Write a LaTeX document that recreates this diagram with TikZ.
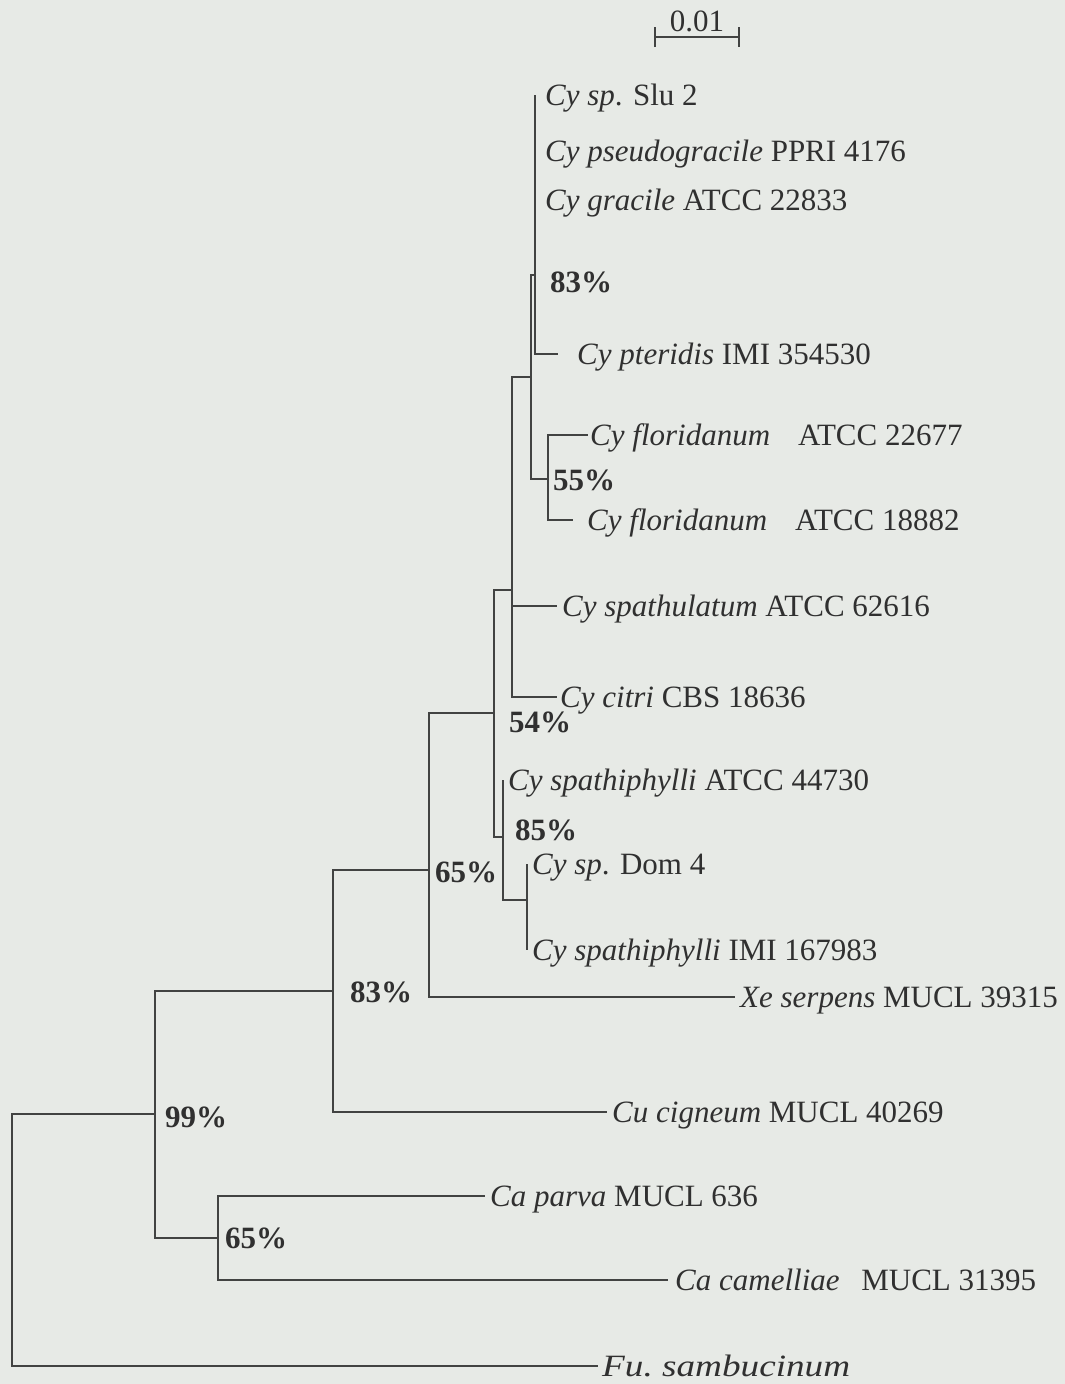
\documentclass[tikz,border=0pt]{standalone}
\usepackage{fontspec}
\setmainfont{Liberation Serif}
\usepackage{graphicx}
\usepackage{tikz}
\usetikzlibrary{arrows.meta}

\definecolor{paper}{RGB}{231,234,230}
\definecolor{ink}{RGB}{48,48,48}

\begin{document}
\begin{tikzpicture}[
    x=1pt,y=-1pt,
    every node/.style={font=\fontsize{31}{36}\selectfont,text=ink},
    branch/.style={draw=ink!90!paper,line width=2.4pt},
    taxon/.style={anchor=west,inner ysep=0pt,inner xsep=5pt,text height=20pt,text depth=0pt},
    support/.style={anchor=west,inner sep=0pt,font=\fontsize{31}{36}\selectfont\bfseries,text height=20pt,text depth=0pt}
]
\path[use as bounding box,fill=paper] (0,0) rectangle (1065,1384);

\coordinate (SL) at (654,37);
\coordinate (SR) at (740,37);
\draw[branch,{Bar[width=20pt]}-{Bar[width=20pt]}] (SL) -- (SR) node[midway,above=4pt,inner sep=0pt] (SB) {0.01};

\coordinate (R) at (12,1300);
\coordinate (N99) at (155,1114);
\coordinate (NCa) at (218,1238);
\coordinate (N83) at (333,991);
\coordinate (N65) at (429,870);
\coordinate (N54) at (494,713);
\coordinate (N85) at (503,837);
\coordinate (NDo) at (527,900);
\coordinate (NCy) at (512,590);
\coordinate (NUp) at (531,377);
\coordinate (N55) at (548,479);
\coordinate (NTo) at (535,275);

\node[taxon,inner xsep=10pt] (Slu) at (535,95) {\textit{Cy sp}. Slu 2};
\node[taxon,inner xsep=10pt] (Pse) at (535,151) {\textit{Cy pseudogracile} PPRI 4176};
\node[taxon,inner xsep=10pt] (Gra) at (535,200) {\textit{Cy gracile} ATCC 22833};
\node[taxon,inner xsep=19pt] (Pte) at (558,354) {\textit{Cy pteridis} IMI 354530};
\node[taxon,inner xsep=2pt] (Fl1) at (588,435) {\textit{Cy floridanum}\hspace{0.9em}ATCC 22677};
\node[taxon,inner xsep=14pt] (Fl2) at (573,520) {\textit{Cy floridanum}\hspace{0.9em}ATCC 18882};
\node[taxon] (Spu) at (557,606) {\textit{Cy spathulatum} ATCC 62616};
\node[taxon,inner xsep=3pt] (Cit) at (557,697) {\textit{Cy citri} CBS 18636};
\node[taxon] (Sp1) at (503,780) {\textit{Cy spathiphylli} ATCC 44730};
\node[taxon] (Dom) at (527,864) {\textit{Cy sp}. Dom 4};
\node[taxon] (Sp2) at (527,950) {\textit{Cy spathiphylli} IMI 167983};
\node[taxon] (Xe) at (735,997) {\textit{Xe serpens} MUCL 39315};
\node[taxon] (Cu) at (607,1112) {\textit{Cu cigneum} MUCL 40269};
\node[taxon] (Cap) at (485,1196) {\textit{Ca parva} MUCL 636};
\node[taxon,inner xsep=7pt] (Cac) at (668,1280) {\textit{Ca camelliae}\hspace{0.7em}MUCL 31395};
\node[taxon,inner xsep=4pt] (Fu) at (598,1366) {\scalebox{1.2}[1]{\textit{Fu.\ sambucinum}}};

\node[support] (B83t) at (550,282) {83\%};
\node[support] (B55) at (553,480) {55\%};
\node[support] (B54) at (509,722) {54\%};
\node[support] (B85) at (515,830) {85\%};
\node[support] (B65) at (435,872) {65\%};
\node[support] (B83) at (350,992) {83\%};
\node[support] (B99) at (165,1117) {99\%};
\node[support] (B65c) at (225,1238) {65\%};

\draw[branch] (R) |- (N99);
\draw[branch] (R) |- (Fu.west);
\draw[branch] (N99) |- (N83);
\draw[branch] (N99) |- (NCa);
\draw[branch] (NCa) |- (Cap.west);
\draw[branch] (NCa) |- (Cac.west);
\draw[branch] (N83) |- (N65);
\draw[branch] (N83) |- (Cu.west);
\draw[branch] (N65) |- (N54);
\draw[branch] (N65) |- (Xe.west);
\draw[branch] (N54) |- (NCy);
\draw[branch] (N54) |- (N85);
\draw[branch] (N85) |- (Sp1.west);
\draw[branch] (N85) |- (NDo);
\draw[branch] (NDo) |- (Dom.west);
\draw[branch] (NDo) |- (Sp2.west);
\draw[branch] (NCy) |- (NUp);
\draw[branch] (NCy) |- (Spu.west);
\draw[branch] (NCy) |- (Cit.west);
\draw[branch] (NUp) |- (NTo);
\draw[branch] (NUp) |- (N55);
\draw[branch] (N55) |- (Fl1.west);
\draw[branch] (N55) |- (Fl2.west);
\draw[branch] (NTo) |- (Slu.west);
\draw[branch] (NTo) |- (Pse.west);
\draw[branch] (NTo) |- (Gra.west);
\draw[branch] (NTo) |- (Pte.west);
\end{tikzpicture}
\end{document}
